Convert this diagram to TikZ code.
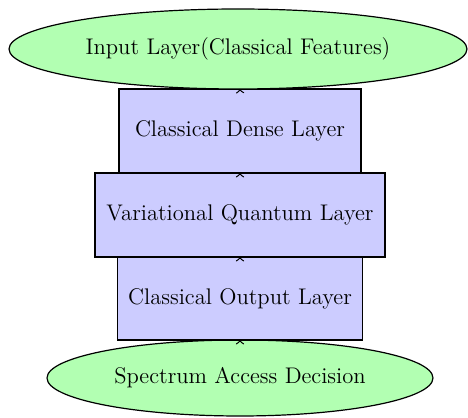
\documentclass[tikz,border=0pt]{standalone}
\usetikzlibrary{positioning,shapes.geometric}
\begin{document}
\begin{tikzpicture}[node distance=0pt, semithick,
    every node/.style={font=\fontsize{11.3}{13.5}\selectfont},
    layer/.style={draw, rectangle, fill=blue!20, minimum height=42pt, inner sep=0pt, outer sep=0pt},
    io/.style={draw, ellipse, fill=green!30, inner sep=0pt, outer sep=0pt}
  ]
    \useasboundingbox (0,0) rectangle (234pt,209pt);
    \node[io, minimum width=193pt, minimum height=38pt] (decision) at (120pt,20pt) {Spectrum Access Decision};
    \node[layer, minimum width=122.5pt, minimum height=41.5pt] (output) [above=of decision] {Classical Output Layer};
    \node[layer, minimum width=145pt] (quantum) [above=of output] {Variational Quantum Layer};
    \node[layer, minimum width=121pt] (dense) [above=of quantum] {Classical Dense Layer};
    \node[io, minimum width=229pt, minimum height=40pt] (input) [above=of dense, xshift=-1pt] {Input Layer(Classical Features)};
    \draw[->] ([yshift=-1pt]decision.north) -- (output);
    \draw[->] ([yshift=-1pt]output.north) -- (quantum);
    \draw[->] ([yshift=-1pt]quantum.north) -- (dense);
    \draw[->] ([yshift=-1pt]dense.north) -- (input);
  \end{tikzpicture}
\end{document}
